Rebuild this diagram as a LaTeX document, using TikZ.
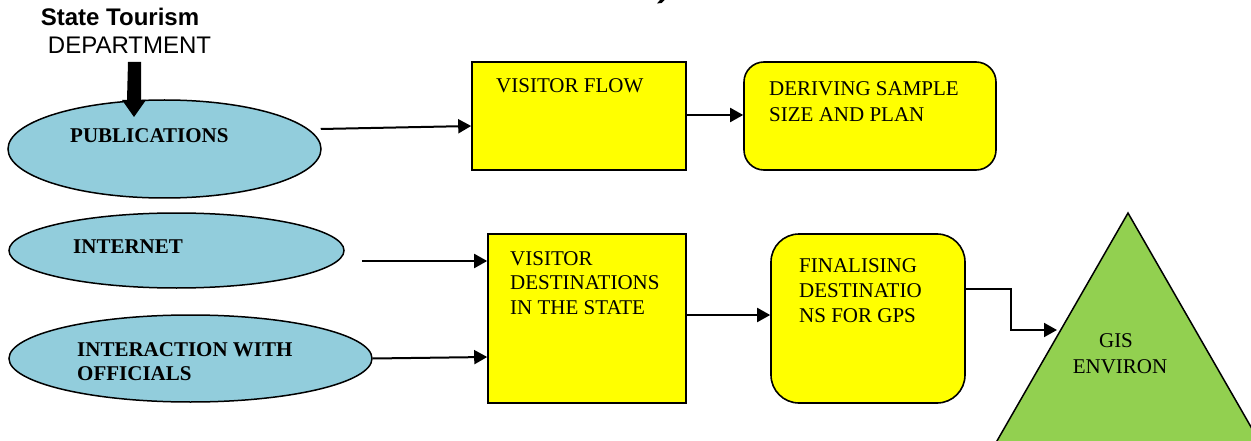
\documentclass[tikz,border=0pt]{standalone}
\usepackage{fontspec}
\setmainfont{Liberation Serif}
\setsansfont{Liberation Sans}
\usetikzlibrary{arrows.meta,shapes.geometric,calc}
\definecolor{pubblue}{HTML}{92CDDC}
\definecolor{boxyellow}{HTML}{FFFF00}
\definecolor{gisgreen}{HTML}{92D050}
\begin{document}
\begin{tikzpicture}[x=1pt,y=-1pt,
  src/.style={ellipse, draw, fill=pubblue, line width=1.5pt, inner sep=0pt},
  sqbox/.style={rectangle, draw, fill=boxyellow, line width=1.6pt, inner sep=0pt},
  rbox/.style={sqbox, rounded corners=#1},
  lbl/.style={inner sep=0pt, anchor=base west, font=\rmfamily\mdseries\fontsize{21}{24}\selectfont},
  blbl/.style={inner sep=0pt, anchor=base west, font=\rmfamily\bfseries\fontsize{21}{24}\selectfont},
  slbl/.style={inner sep=0pt, anchor=base, font=\sffamily\fontsize{24}{28}\selectfont},
  conn/.style={line width=2pt, -{Triangle[length=13pt,width=14pt]}}
]
\useasboundingbox (0,0) rectangle (1251,441);
\clip (0,0) rectangle (1251,441);

% cut-off title fragment (tail of a letter above the page)
\fill (660,0) -- (664.5,0) -- (661.5,3) -- (657,3.5) -- cycle;

% source
\node[slbl] (st) at (120,26) {\bfseries State Tourism};
\node[slbl] (dep) at (129.5,54) {DEPARTMENT};

% ellipses
\node[src, minimum width=313pt, minimum height=98pt] (pub) at (164.5,149) {};
\node[src, minimum width=335pt, minimum height=75pt] (int) at (176.5,250.5) {};
\node[src, minimum width=363pt, minimum height=87pt] (ia) at (190.5,358.5) {};
\node[blbl] (pubt) at (70,143) {PUBLICATIONS};
\node[blbl] (intt) at (73,253) {INTERNET};
\node[blbl] (iat1) at (77,356) {INTERACTION WITH};
\node[blbl] (iat2) at (77,380) {OFFICIALS};

% thick arrow from the department into publications
\coordinate (depA) at (134.5,62);
\fill (depA) ++(-6.5,0) -- ++(13,0) -- ++(0,38) -- ++(5,0) -- ++(-12,17) -- ++(-12,-17) -- ++(5,0) -- cycle;

% boxes
\node[sqbox, minimum width=214pt, minimum height=108pt] (vf) at (579,116) {};
\node[rbox=20pt, minimum width=252pt, minimum height=108pt] (der) at (870,116) {};
\node[sqbox, minimum width=198pt, minimum height=169pt] (vd) at (587,318.5) {};
\node[rbox=28pt, minimum width=194pt, minimum height=169pt] (fin) at (868,318.5) {};

\node[lbl] (vft) at (496,93) {VISITOR FLOW};
\node[lbl] (dert1) at (769,96) {DERIVING SAMPLE};
\node[lbl] (dert2) at (769,122) {SIZE AND PLAN};
\node[lbl] (vdt1) at (510,265) {VISITOR};
\node[lbl] (vdt2) at (510,289) {DESTINATIONS};
\node[lbl] (vdt3) at (510,314) {IN THE STATE};
\node[lbl] (fint1) at (799,272) {FINALISING};
\node[lbl] (fint2) at (799,297) {DESTINATIO};
\node[lbl] (fint3) at (799,322) {NS FOR GPS};

% GIS triangle
\filldraw[fill=gisgreen, line width=1.5pt] (1128,213) -- (1270,460) -- (986,460) -- cycle;
\coordinate (gistip) at (1057,330);
\node[inner sep=0pt, anchor=base, font=\rmfamily\fontsize{21}{24}\selectfont] (gis1) at (1116,347) {GIS};
\node[inner sep=0pt, anchor=base, font=\rmfamily\fontsize{21}{24}\selectfont] (gis2) at (1120,373) {ENVIRON};

% connectors
\draw[conn] ($(pub.east)+(-1,-20)$) -- ($(vf.west)+(0,10)$);
\draw[conn] ($(vf.east)+(0,-1)$) -- ($(der.west)+(0,-1)$);
\draw[conn] ($(int.east)+(17,10.5)$) -- ($(vd.west)+(0,-57.5)$);
\draw[conn] (ia.east) -- ($(vd.west)+(0,38.5)$);
\draw[conn] ($(vd.east)+(0,-3.5)$) -- ($(fin.west)+(0,-3.5)$);
\draw[conn] ($(fin.east)+(0,-29.5)$) -- ++(45,0) |- (gistip);
\end{tikzpicture}
\end{document}
